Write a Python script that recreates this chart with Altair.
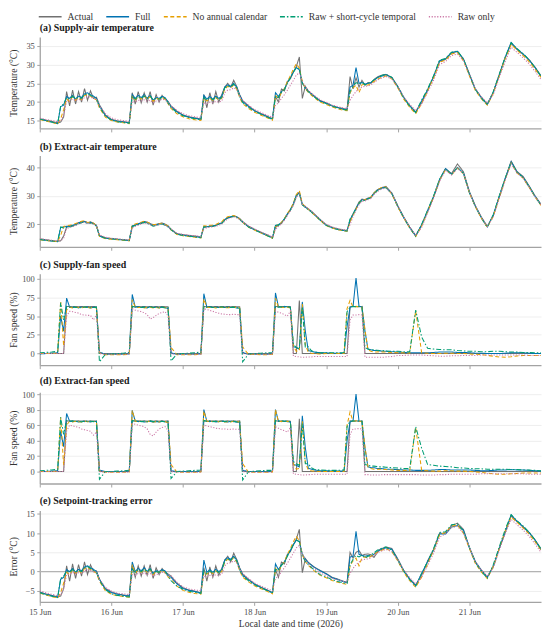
import altair as alt
import pandas as pd

# ---------------- time grid (hours after 15 Jun 2026 00:00) ----------------
hours = [
    0, 2, 4, 6, 7, 8, 9, 10, 11, 12, 13, 14, 15, 16, 17, 18, 19, 20, 22,
    24, 26, 28, 30, 31, 32, 33, 34, 35, 36, 37, 38, 39, 40, 41, 42, 43, 44, 46,
    48, 50, 52, 54, 55, 56, 57, 58, 59, 60, 61, 62, 63, 64, 65, 66, 67, 68, 70,
    72, 74, 76, 78, 79, 80, 81, 82, 83, 84, 85, 86, 87, 88, 89, 90, 91, 92, 94,
    96, 98, 100, 102, 103, 104, 105, 106, 107, 108, 109, 110, 111, 112, 113, 114, 115, 116, 118,
    120, 122, 124, 126, 128, 130, 132, 134, 136, 138, 140, 142,
    144, 146, 148, 150, 152, 154, 156, 158, 160, 162, 164, 166,
    168,
]

SERIES = ["Actual", "Full", "No annual calendar", "Raw + short-cycle temporal", "Raw only"]
COLORS = ["#717171", "#0072B2", "#E69F00", "#009E73", "#CC79A7"]
DASHES = [[1, 0], [1, 0], [4, 2.5], [5, 2, 1.5, 2], [1.2, 1.6]]

# ---------------- (a) Supply-air temperature ----------------
a_actual = [
    15.6, 15.2, 14.9, 14.5, 14.7, 16.0, 22.8, 19.0, 23.2, 19.5, 22.8, 20.0, 23.6, 20.5, 23.0, 21.0, 21.3, 19.3, 16.6,
    15.4, 15.0, 14.8, 14.6, 22.5, 19.5, 22.8, 19.8, 22.5, 20.0, 22.8, 19.2, 22.0, 20.0, 21.8, 20.8, 20.2, 19.0, 17.6,
    16.6, 16.1, 15.8, 15.5, 22.0, 18.5, 22.5, 19.5, 22.8, 20.0, 22.0, 24.0, 25.0, 24.0, 25.8, 24.2, 22.0, 20.4, 19.0,
    17.8, 17.0, 16.3, 15.6, 21.5, 20.0, 23.5, 23.0, 25.5, 26.2, 28.0, 29.5, 32.0, 21.0, 24.2, 23.0, 22.3, 21.6, 20.4,
    19.8, 19.0, 18.6, 18.2, 18.1, 26.8, 23.5, 26.5, 24.0, 25.8, 24.5, 25.2, 25.0, 26.0, 26.6, 27.0, 27.2, 27.4, 26.6,
    24.2, 21.3, 19.1, 17.4, 19.8, 23.3, 26.8, 30.8, 31.4, 33.1, 33.5, 31.5,
    27.5, 23.5, 21.3, 19.5, 22.6, 27.3, 31.8, 35.6, 34.0, 32.7, 31.3, 29.3,
    27.0,
]
a_full = [
    15.5, 15.1, 14.7, 14.3, 18.8, 19.2, 21.5, 21.0, 21.8, 20.8, 21.6, 21.2, 22.2, 22.5, 22.0, 21.6, 21.0, 19.0, 16.4,
    15.3, 14.9, 14.7, 14.5, 22.0, 21.0, 21.8, 21.2, 22.0, 21.0, 21.8, 20.5, 21.2, 21.0, 21.5, 21.2, 20.0, 18.8, 17.4,
    16.5, 16.0, 15.7, 15.4, 21.8, 20.8, 21.5, 20.8, 21.6, 21.0, 21.5, 24.0, 24.6, 24.2, 25.0, 24.0, 21.8, 20.2, 18.8,
    17.7, 16.9, 16.2, 15.5, 22.5, 21.5, 22.8, 23.5, 25.2, 26.5, 28.0, 29.2, 28.6, 25.2, 23.8, 22.9, 22.2, 21.5, 20.3,
    19.7, 19.0, 18.5, 18.1, 18.0, 24.0, 24.5, 29.2, 25.0, 25.2, 24.8, 25.0, 25.2, 25.8, 26.4, 26.8, 27.0, 27.3, 26.5,
    24.1, 21.2, 19.0, 17.3, 20.3, 23.2, 26.8, 31.0, 31.5, 33.2, 33.5, 31.4,
    27.4, 23.4, 21.2, 19.4, 22.5, 27.2, 31.9, 35.9, 34.1, 32.8, 31.2, 29.2,
    26.8,
]
a_noannual = [
    15.4, 15.0, 14.6, 14.2, 15.5, 18.0, 20.8, 20.2, 21.5, 20.5, 21.2, 20.6, 21.8, 22.0, 21.6, 21.0, 20.6, 18.5, 16.0,
    15.1, 14.7, 14.5, 14.3, 21.5, 20.6, 21.5, 20.8, 21.6, 20.8, 21.5, 20.2, 21.0, 20.8, 21.2, 20.8, 19.6, 18.3, 16.9,
    16.1, 15.6, 15.3, 15.1, 21.0, 20.3, 21.0, 20.5, 21.2, 20.6, 21.0, 23.5, 24.2, 23.8, 24.6, 23.5, 21.2, 19.6, 18.3,
    17.3, 16.6, 15.9, 15.2, 21.8, 21.0, 22.5, 23.6, 25.5, 27.0, 28.8, 30.2, 29.0, 25.5, 23.6, 22.6, 21.9, 21.2, 20.0,
    19.4, 18.7, 18.2, 17.8, 17.7, 22.5, 23.8, 24.5, 22.5, 24.6, 24.8, 24.5, 25.0, 25.5, 26.0, 26.4, 26.7, 27.0, 26.2,
    23.8, 20.8, 18.6, 16.9, 19.6, 23.0, 26.5, 30.6, 31.2, 32.8, 33.2, 31.0,
    27.0, 23.1, 20.9, 19.2, 22.3, 27.0, 31.6, 35.3, 33.8, 32.4, 30.8, 28.8,
    26.6,
]
a_rawshort = [
    15.5, 15.1, 14.7, 14.3, 19.0, 19.5, 21.2, 20.8, 21.5, 21.0, 21.3, 21.0, 22.0, 22.3, 21.8, 21.3, 20.8, 18.8, 16.3,
    15.2, 14.8, 14.6, 14.4, 21.6, 20.8, 21.5, 21.0, 21.6, 21.0, 21.6, 20.6, 21.0, 20.8, 21.3, 21.0, 19.8, 18.6, 17.2,
    16.4, 15.9, 15.6, 15.3, 21.2, 20.5, 21.2, 20.6, 21.3, 20.8, 21.2, 23.8, 24.3, 24.0, 24.8, 23.8, 21.5, 19.9, 18.6,
    17.6, 16.8, 16.1, 15.4, 21.6, 21.2, 22.6, 23.4, 25.0, 26.5, 28.0, 29.2, 28.8, 25.0, 23.7, 22.8, 22.1, 21.4, 20.2,
    19.6, 18.9, 18.4, 18.0, 17.9, 22.8, 24.2, 25.2, 24.8, 25.3, 24.6, 25.0, 25.3, 25.9, 26.5, 26.9, 27.2, 27.4, 26.6,
    24.0, 21.1, 18.9, 17.2, 20.6, 23.5, 27.0, 31.2, 31.6, 33.3, 33.6, 31.5,
    27.3, 23.4, 21.1, 19.3, 22.8, 27.4, 32.0, 35.8, 34.2, 32.9, 31.3, 29.2,
    26.9,
]
a_rawonly = [
    15.8, 15.4, 15.1, 14.8, 14.9, 16.5, 20.2, 20.3, 20.8, 20.4, 20.7, 20.5, 21.2, 21.5, 21.3, 21.0, 20.8, 19.0, 16.9,
    15.8, 15.3, 15.1, 14.9, 20.2, 20.0, 20.5, 20.3, 20.6, 20.2, 20.5, 19.8, 20.3, 20.3, 20.8, 20.6, 19.8, 19.0, 17.8,
    16.9, 16.4, 16.1, 15.9, 19.8, 19.6, 20.0, 19.8, 20.2, 20.0, 20.3, 22.5, 23.2, 23.3, 23.8, 23.4, 21.6, 20.4, 19.2,
    18.0, 17.3, 16.6, 16.0, 19.2, 19.8, 21.0, 22.0, 23.2, 24.5, 25.8, 27.2, 27.8, 25.6, 24.0, 23.1, 22.4, 21.8, 20.6,
    20.0, 19.2, 18.8, 18.4, 18.3, 20.5, 21.8, 22.8, 23.5, 24.0, 24.2, 24.3, 24.6, 25.2, 25.8, 26.2, 26.5, 26.8, 26.2,
    24.0, 21.4, 19.4, 17.8, 19.5, 22.6, 25.8, 30.0, 30.8, 32.4, 32.8, 31.0,
    27.4, 23.6, 21.4, 19.8, 22.0, 26.5, 30.8, 34.6, 33.2, 31.8, 30.2, 28.2,
    26.0,
]

# ---------------- (b) Extract-air temperature ----------------
b_actual = [
    14.8, 14.5, 14.2, 14.0, 14.1, 15.8, 19.0, 19.2, 19.4, 19.8, 20.5, 20.8, 21.0, 20.5, 20.8, 20.3, 19.6, 16.0, 15.2,
    14.9, 14.7, 14.5, 14.3, 19.2, 19.6, 20.0, 20.4, 20.9, 20.7, 20.2, 19.8, 19.9, 20.2, 20.4, 20.0, 19.4, 18.2, 16.6,
    16.3, 16.0, 15.8, 15.5, 19.0, 19.1, 19.2, 19.3, 19.5, 20.0, 20.3, 21.5, 22.2, 22.5, 22.8, 22.6, 22.0, 20.9, 19.2,
    18.2, 17.2, 16.3, 15.3, 18.8, 19.6, 20.3, 21.8, 23.5, 25.0, 27.0, 30.0, 31.3, 26.8, 26.2, 25.4, 24.6, 23.6, 21.6,
    19.8, 18.9, 18.3, 17.9, 17.8, 21.0, 23.5, 25.5, 27.8, 28.8, 28.6, 29.2, 29.5, 31.0, 32.0, 32.6, 33.0, 33.3, 31.0,
    26.5, 22.5, 19.0, 16.0, 19.5, 24.5, 29.5, 35.5, 39.5, 37.8, 41.2, 38.5,
    31.5, 26.5, 22.5, 19.2, 23.0, 29.5, 36.0, 42.2, 38.5, 36.8, 33.5, 30.0,
    27.0,
]
b_full = [
    14.6, 14.3, 14.0, 13.8, 18.8, 19.0, 19.2, 19.3, 19.6, 19.9, 20.4, 20.7, 20.9, 20.4, 20.6, 20.2, 19.5, 15.8, 15.0,
    14.8, 14.6, 14.4, 14.2, 19.4, 19.7, 20.1, 20.5, 20.8, 20.5, 20.0, 19.6, 19.8, 20.0, 20.2, 19.8, 19.2, 18.0, 16.5,
    16.1, 15.8, 15.6, 15.3, 19.2, 19.0, 19.3, 19.4, 19.6, 20.1, 20.4, 21.6, 22.3, 22.6, 22.9, 22.5, 21.8, 20.7, 19.0,
    18.0, 17.0, 16.1, 15.1, 19.5, 19.8, 20.5, 21.9, 23.6, 25.1, 27.2, 30.2, 31.0, 27.0, 26.0, 25.2, 24.4, 23.4, 21.4,
    19.6, 18.7, 18.1, 17.7, 17.6, 21.5, 23.6, 25.6, 27.5, 28.6, 28.4, 29.0, 29.4, 30.8, 31.8, 32.4, 32.8, 33.0, 30.8,
    26.3, 22.3, 18.8, 15.8, 19.8, 24.8, 29.8, 35.8, 39.6, 37.6, 40.0, 38.0,
    31.2, 26.3, 22.3, 19.0, 23.2, 29.8, 36.2, 42.0, 38.3, 36.5, 33.3, 29.8,
    26.8,
]
b_noannual = [
    14.5, 14.2, 14.0, 13.8, 16.0, 19.2, 19.4, 19.6, 19.8, 20.2, 20.6, 21.0, 21.2, 20.6, 20.7, 20.3, 19.5, 15.7, 14.9,
    14.7, 14.5, 14.3, 14.1, 19.6, 20.0, 20.3, 20.7, 21.0, 20.7, 20.2, 19.8, 19.9, 20.1, 20.3, 19.9, 19.3, 18.0, 16.3,
    15.9, 15.6, 15.4, 15.1, 19.4, 19.3, 19.6, 19.7, 19.9, 20.4, 20.8, 22.0, 22.6, 22.8, 23.0, 22.6, 21.8, 20.6, 18.9,
    17.9, 16.9, 16.0, 15.0, 19.0, 19.9, 20.6, 22.0, 23.8, 25.3, 27.4, 30.4, 31.8, 27.2, 26.2, 25.2, 24.3, 23.3, 21.3,
    19.5, 18.6, 18.0, 17.6, 17.5, 20.8, 23.2, 25.3, 27.4, 28.5, 28.5, 29.0, 29.5, 30.9, 31.9, 32.6, 33.0, 33.1, 30.6,
    26.1, 22.1, 18.6, 15.6, 19.3, 24.6, 29.6, 35.5, 39.3, 37.4, 39.8, 37.8,
    31.0, 26.1, 22.1, 18.9, 22.8, 29.4, 35.8, 41.6, 38.0, 36.2, 33.0, 29.6,
    26.6,
]
b_rawshort = [
    14.6, 14.3, 14.1, 13.9, 19.0, 18.6, 18.8, 19.0, 19.3, 19.6, 20.0, 20.5, 20.8, 20.2, 20.4, 20.0, 19.3, 15.8, 15.0,
    14.8, 14.6, 14.4, 14.2, 19.2, 19.5, 19.8, 20.2, 20.6, 20.3, 19.8, 19.3, 19.5, 19.8, 20.0, 19.6, 19.0, 18.1, 16.4,
    16.0, 15.7, 15.5, 15.2, 19.0, 18.9, 19.1, 19.2, 19.4, 19.9, 20.2, 21.4, 22.1, 22.4, 22.7, 22.4, 21.7, 20.6, 19.0,
    18.0, 17.0, 16.1, 15.1, 19.6, 19.6, 20.3, 21.7, 23.4, 24.9, 27.0, 30.0, 30.8, 26.8, 25.9, 25.1, 24.3, 23.3, 21.4,
    19.6, 18.7, 18.1, 17.7, 17.6, 21.8, 23.4, 25.4, 27.3, 28.4, 28.3, 28.9, 29.3, 30.7, 31.7, 32.3, 32.7, 32.9, 30.7,
    26.2, 22.2, 18.7, 15.7, 19.9, 24.9, 29.9, 35.7, 39.4, 37.5, 39.9, 37.9,
    31.1, 26.2, 22.2, 18.9, 23.3, 29.9, 36.1, 41.8, 38.2, 36.4, 33.2, 29.7,
    26.7,
]
b_rawonly = [
    14.9, 14.6, 14.3, 14.1, 14.1, 15.0, 18.4, 18.8, 19.1, 19.5, 20.1, 20.4, 20.7, 20.2, 20.4, 20.0, 19.3, 16.2, 15.4,
    15.0, 14.8, 14.6, 14.4, 18.6, 19.2, 19.6, 20.0, 20.4, 20.2, 19.8, 19.4, 19.5, 19.8, 20.0, 19.6, 19.0, 18.3, 16.8,
    16.4, 16.1, 15.9, 15.6, 18.4, 18.7, 18.9, 19.0, 19.2, 19.6, 20.0, 21.0, 21.8, 22.2, 22.5, 22.2, 21.6, 20.8, 19.3,
    18.3, 17.3, 16.4, 15.5, 18.0, 19.2, 20.0, 21.4, 23.0, 24.6, 26.6, 29.4, 30.6, 27.0, 26.2, 25.4, 24.6, 23.6, 21.7,
    19.9, 19.0, 18.4, 18.0, 17.9, 19.8, 22.6, 24.8, 26.8, 28.0, 28.1, 28.6, 29.0, 30.4, 31.4, 32.0, 32.5, 32.8, 30.8,
    26.4, 22.4, 18.9, 16.0, 18.8, 24.0, 29.0, 35.0, 39.0, 37.3, 39.6, 37.8,
    31.2, 26.4, 22.4, 19.2, 22.5, 29.0, 35.4, 41.2, 38.0, 36.2, 33.0, 29.6,
    26.8,
]

# ---------------- (c) Supply-fan speed ----------------
c_actual = [
    0, 0, 0, 0, 0, 0, 63, 63, 62.5, 63, 62.5, 63, 62.5, 63, 62.5, 63, 62.5, 0, 0,
    0, 0, 0, 0, 63, 62.5, 63, 62.5, 63, 62.5, 63, 62.5, 63, 62.5, 63, 62.5, 62.5, 0, 0,
    0, 0, 0, 0, 63, 62.5, 63, 62.5, 63, 62.5, 63, 62.5, 63, 62.5, 63, 62.5, 62.5, 0, 0,
    0, 0, 0, 0, 63, 62.5, 63, 62.5, 63, 62.5, 0, 0, 71, 0, 0, 0, 0, 0, 0,
    0, 0, 0, 0, 0, 62.5, 63, 63, 62.5, 63, 0, 0, 0, 0, 0, 0, 0, 0, 0,
    0, 0, 0, 0, 0, 0, 0, 0, 0, 0, 0, 0,
    0, 0, 0, 0, 0, 0, 0, 0, 0, 0, 0, 0,
    0,
]
c_full = [
    -0.5, 0, 0.5, 1, 50, 30, 74, 62, 61.5, 62.5, 61, 62, 61.5, 62, 61, 62, 61.5, 2, -1,
    -1, -1, -1, -0.5, 79, 62, 62.5, 61.5, 62, 61, 62.5, 61.5, 62, 61, 62, 61.5, 60, 1, -1,
    -1, -1, -1, -0.5, 80, 62, 62.5, 61.5, 62, 61.5, 62, 61.5, 62, 61.5, 62, 61, 60.5, 1.5, -1,
    -1, -1, -1, -0.5, 81, 62.5, 62, 63, 62.5, 62, 9, 8, 6, 69, 30, 4, 3, 2, 1,
    1, 0.5, 0.5, 0.5, 36, 62, 63, 101, 63, 62.5, 30, 6, 5, 4, 4, 3.5, 3, 3, 2.5,
    2, 1.5, 1, 1, 1, 1, 1.5, 2, 2, 2, 1.5, 1.5,
    1, 0.5, 0.5, 0, 0, 0, 0.5, 1, 1, 1, 0.5, 0,
    0,
]
c_noannual = [
    0, 0, 0, 0.5, 70, 10, 58, 62, 61, 62, 61.5, 61, 62, 61.5, 61, 62, 61, 1, -1.5,
    -1.5, -1.5, -1.5, -1, 72, 62, 61.5, 62, 61, 61.5, 62, 61, 61.5, 61, 62, 61.5, 60, 8, -1.5,
    -1.5, -1.5, -1.5, -1, 73, 62, 61.5, 62, 61, 61.5, 62, 61, 61.5, 61, 62, 61.5, 61, 9, -1.5,
    -1, -1.5, -1.5, -1, 74, 61.5, 62, 61.5, 62, 61, 10, 3, 4, 66, 12, 2, 0.5, 0, -0.5,
    0, 0, 0, 0, 60, 71, 62, 63, 62.5, 62, 32, 5, 3, 2, 2, 2.5, 2, 2, 1.5,
    1, 1, 0.5, 57, 1, 0.5, 0, 0, 0.5, 0.5, 0, 0,
    -0.5, -1, -1.5, -2.5, -3.5, -4.5, -4.8, -4.2, -3.2, -2.5, -2.5, -2.5,
    -2.5,
]
c_rawshort = [
    1, 1.5, 2, 3, 68, 45, 63, 62, 62.5, 61.5, 62, 61, 62.5, 61.5, 62, 61.5, 62, -11, -1,
    -0.5, 0, 0.5, 1.5, 63, 62, 62.5, 61.5, 62, 61.5, 62.5, 61.5, 62, 61.5, 62, 61, 61.5, -10, -0.5,
    0, 0.5, 1, 2, 63, 62, 62.5, 61.5, 62, 61.5, 62.5, 61.5, 62, 61.5, 62, 61, 61.5, -11, -0.5,
    0, 0.5, 1, 1.5, 63, 62, 62.5, 62, 62.5, 61.5, 12, 8, 6, 62, 8, 9, 4, 2, 1,
    1, 1, 1, 1.5, 56, 62, 63, 62.5, 63, 62, 8, 6, 5, 5, 4.5, 4, 4, 3.5, 3,
    3, 2.5, 2.5, 58, 22, 7, 6, 5.5, 5, 5, 4, 3.5,
    3, 3, 2.5, 2.5, 3, 3, 2.5, 2, 2, 1.5, 1.5, 1,
    1,
]
c_rawonly = [
    0, 0, 0, 0, 0, 0, 50, 56.5, 56, 55, 54, 52, 51.5, 51, 51, 45, 51.5, 0, -1,
    -1, -1, -1, -1, 60, 58, 57, 56, 54.5, 52, 46, 48, 51, 53.5, 55, 56, 50, -0.5, -1,
    -1, -1, -1, -1, 60, 59, 57.5, 56.5, 55, 54, 53, 52.5, 52, 52, 52.5, 52, 52, 0, -1,
    -1, -1, -1, -1, 57, 55, 54, 52, 50, 57, -3.5, -4, -4.5, -5, -5, -4.5, -4.5, -4, -4,
    -4, -4, -4, -4, -4, 45, 51.5, 51.5, 52, 51.5, -5, -5, -5, -5, -5, -5, -5, -4.5, -4,
    -2.5, -2.5, -2, -2, -2, -2.5, -3, -3.5, -3.5, -3, -3, -2.5,
    -2.5, -2.5, -2, -2, -2, -2, -2, -2, -2, -2, -2.5, -2.5,
    -2.5,
]

# ---------------- (d) Extract-fan speed ----------------
d_actual = [
    0, 0, 0, 0, 0, 0, 65.5, 65, 65.5, 65, 65.5, 65, 65.5, 65, 65.5, 65, 65.5, 0, 0,
    0, 0, 0, 0, 65.5, 65, 65.5, 65, 65.5, 65, 65.5, 65, 65.5, 65, 65.5, 65, 65.5, 0, 0,
    0, 0, 0, 0, 65.5, 65, 65.5, 65, 65.5, 65, 65.5, 65, 65.5, 65, 65.5, 65, 65.5, 0, 0,
    0, 0, 0, 0, 65.5, 65, 65.5, 65, 65.5, 65, 0, 0, 68, 0, 0, 0, 0, 0, 0,
    0, 0, 0, 0, 0, 65.5, 65, 65.5, 65, 65.5, 0, 0, 0, 0, 0, 0, 0, 0, 0,
    0, 0, 0, 0, 0, 0, 0, 0, 0, 0, 0, 0,
    0, 0, 0, 0, 0, 0, 0, 0, 0, 0, 0, 0,
    0,
]
d_full = [
    0, 0, 0.5, 1, 52, 32, 75, 65, 64.5, 65, 64, 65, 64.5, 65, 64, 65, 64.5, 2, 0,
    0, 0, 0, 0.5, 79, 65, 64.5, 65, 64, 64.5, 65, 64, 64.5, 64, 65, 64.5, 63, 1, 0,
    0, 0, 0, 0.5, 80, 65, 64.5, 65, 64, 64.5, 65, 64.5, 64, 65, 64.5, 64, 63.5, 1.5, 0,
    0, 0, 0, 0.5, 80, 65, 64.5, 65, 64.5, 64, 9, 8, 6, 72, 31, 4, 3, 2, 1,
    1, 0.5, 0.5, 0.5, 40, 64, 65.5, 100, 65, 64.5, 30, 6, 5, 5, 4, 4, 3.5, 3, 3,
    2.5, 2, 2, 1.5, 1.5, 1.5, 2, 2.5, 2.5, 2, 2, 2,
    2, 1.5, 1, 1, 1.5, 2, 2, 2.5, 2, 2, 1.5, 1,
    0.5,
]
d_noannual = [
    0, 0, 0, 0.5, 70, 8, 60, 65, 64, 65, 64.5, 64, 65, 64.5, 64, 65, 64, 1, -1,
    -1, -1, -1, -0.5, 79, 65, 64.5, 65, 64, 64.5, 65, 64, 64.5, 64, 65, 64.5, 63, 9, -1,
    -1, -1, -1, -0.5, 78, 65, 64.5, 65, 64, 64.5, 65, 64, 64.5, 64, 65, 64.5, 64, 10, -1,
    -1, -1, -1, -0.5, 80, 64.5, 65, 64.5, 65, 64, 10, 3, 4, 65, 12, 2, 1, 0.5, 0,
    0, 0, 0, 0, 60, 77, 65, 65.5, 65, 64.5, 32, 6, 4, 3, 3, 3, 2.5, 2.5, 2,
    1.5, 1.5, 1, 57, 1.5, 1, 0.5, 0.5, 1, 1, 0.5, 0.5,
    0, -0.5, -1, -2, -3, -3.5, -3.5, -3, -2.5, -2, -2, -2,
    -2,
]
d_rawshort = [
    1, 1.5, 2, 3, 70, 48, 66, 65, 65.5, 64.5, 65, 64, 65.5, 64.5, 65, 64.5, 65, -10, 0,
    0, 0.5, 1, 1.5, 66, 65, 65.5, 64.5, 65, 64.5, 65.5, 64.5, 65, 64.5, 65, 64, 64.5, -9, 0,
    0.5, 1, 1.5, 2, 66, 65, 65.5, 64.5, 65, 64.5, 65.5, 64.5, 65, 64.5, 65, 64, 64.5, -11, 0,
    0.5, 1, 1.5, 1.5, 66, 65, 65.5, 65, 65.5, 64.5, 13, 10, 8, 62, 10, 10, 5, 3, 2,
    1.5, 1.5, 1.5, 2, 58, 65, 65.5, 65, 65.5, 65, 9, 8, 7, 7, 6.5, 6, 6, 5.5, 5,
    4.5, 4, 4, 58, 30, 9, 8, 7, 6.5, 6, 5, 4.5,
    4, 3.5, 3.5, 3, 3, 3, 3, 2.5, 2.5, 2, 2, 1.5,
    1,
]
d_rawonly = [
    0, 0, 0, 0, 0, 0, 52, 60, 59, 58, 57, 55, 54, 53, 52, 47, 51, 0, -1,
    -1, -1, -1, -1, 62, 61, 60, 59, 58, 55, 48, 46, 51, 55, 57, 58, 53, 0, -1,
    -1, -1, -1, -1, 60, 59, 58, 57, 56, 55.5, 55, 55, 54.5, 54.5, 55, 54.5, 54.5, 0, -1,
    -1, -1, -1, -1, 58, 56, 54, 53, 51, 57, -3, -3.5, -4, -4.5, -4.5, -4, -4, -3.5, -3.5,
    -3.5, -3.5, -3.5, -3.5, -3.5, 48, 55, 55, 55.5, 55, -4, -4, -4.5, -4.5, -4.5, -4.5, -4, -4, -4,
    -4, -4, -4, -4, -4.5, -4.5, -4.5, -4, -4, -3.5, -3.5, -3.5,
    -3.5, -3.5, -3, -3, -3, -3, -3, -3, -3, -3, -3.5, -3.5,
    -3.5,
]

# ---------------- (e) Setpoint-tracking error ----------------
e_actual = [
    -5.3, -5.8, -6.2, -6.6, -6.4, -4.5, 1.5, -2.5, 2.0, -1.8, 1.8, -1.2, 2.5, -0.8, 1.8, 0.0, 0.2, -2.0, -4.4,
    -5.3, -5.8, -6.1, -6.3, 1.5, -1.5, 1.5, -1.2, 1.5, -1.0, 1.8, -1.8, 1.0, -0.8, 0.8, -0.2, -0.6, -1.2, -3.0,
    -4.2, -4.8, -5.1, -5.5, 1.0, -2.5, 1.2, -1.5, 1.5, -1.0, 0.8, 3.0, 4.0, 2.5, 4.8, 3.2, 1.0, -0.6, -2.0,
    -3.2, -4.0, -4.7, -5.5, 0.5, -1.5, 2.5, 2.0, 4.5, 5.2, 7.0, 8.5, 11.0, -0.3, 3.4, 2.4, 1.8, 1.2, 0.3,
    -0.5, -1.5, -2.0, -2.6, -2.8, 5.0, 3.5, 5.0, 5.5, 4.2, 4.5, 4.6, 4.4, 3.7, 4.8, 5.8, 6.1, 6.4, 6.0,
    3.3, 0.3, -1.9, -3.5, -1.0, 2.8, 5.8, 10.0, 10.0, 12.0, 12.6, 11.0,
    6.3, 2.6, 0.4, -1.4, 1.4, 6.0, 10.3, 14.5, 13.0, 11.6, 10.2, 8.3,
    5.9,
]
e_full = [
    -5.4, -5.9, -6.3, -6.7, -2.0, -1.5, 0.5, 0.0, 0.8, -0.2, 0.6, 0.2, 1.2, 1.5, 1.0, 0.6, 0.0, -2.0, -4.6,
    -5.5, -5.9, -6.2, -6.4, 2.5, 0.0, 0.8, 0.2, 1.0, 0.0, 0.8, -0.5, 0.2, 0.0, 0.5, 0.2, -1.0, -1.5, -3.2,
    -4.4, -4.9, -5.2, -5.6, 3.0, -0.2, 0.5, -0.2, 0.6, 0.0, 0.5, 3.0, 3.6, 3.2, 4.0, 3.0, 0.8, -0.9, -2.2,
    -3.3, -4.1, -4.8, -5.5, 2.0, 0.5, 1.8, 2.5, 4.2, 5.5, 7.0, 8.2, 7.8, 4.6, 3.2, 2.3, 1.7, 1.1, 0.2,
    -0.6, -1.6, -2.1, -2.7, -2.9, 3.8, 4.0, 10.5, 4.5, 4.2, 4.0, 4.2, 4.0, 4.5, 5.2, 5.6, 5.9, 6.2, 5.8,
    3.1, 0.2, -2.0, -3.7, -0.5, 2.6, 5.6, 9.8, 9.8, 11.6, 12.0, 10.8,
    6.2, 2.5, 0.3, -1.5, 1.3, 5.9, 10.4, 14.8, 13.1, 11.7, 10.2, 8.2,
    5.7,
]
e_noannual = [
    -5.6, -6.1, -6.5, -6.9, -5.5, -3.0, -0.2, -0.8, 0.5, -0.5, 0.2, -0.4, 0.8, 1.0, 0.6, 0.0, -0.4, -2.5, -5.0,
    -5.9, -6.3, -6.5, -6.7, 1.8, -0.4, 0.5, -0.2, 0.6, -0.2, 0.5, -0.8, 0.0, -0.2, 0.2, -0.2, -1.4, -2.0, -3.8,
    -4.9, -5.4, -5.7, -5.9, 0.0, -0.7, 0.0, -0.5, 0.2, -0.4, 0.0, 2.5, 3.2, 2.8, 3.6, 2.5, 0.2, -1.4, -2.7,
    -3.7, -4.4, -5.1, -5.8, 0.8, 0.0, 1.5, 2.6, 4.5, 6.0, 7.8, 9.2, 8.0, 4.5, 2.6, 1.6, 0.9, 0.2, -1.0,
    -1.6, -2.3, -2.8, -3.2, -3.3, 1.5, 2.8, 3.5, 1.5, 3.6, 3.8, 3.5, 4.0, 4.5, 5.0, 5.4, 5.7, 6.0, 5.2,
    2.8, -0.2, -2.4, -4.1, -1.4, 2.0, 5.5, 9.6, 10.2, 11.8, 12.2, 10.0,
    6.0, 2.1, -0.1, -1.8, 1.3, 6.0, 10.6, 14.3, 12.8, 11.4, 9.8, 7.8,
    5.6,
]
e_rawshort = [
    -5.5, -6.0, -6.4, -6.8, -1.8, -1.2, 0.2, -0.2, 0.5, 0.0, 0.3, 0.0, 1.0, 1.3, 0.8, 0.3, -0.2, -2.2, -4.7,
    -5.8, -6.2, -6.4, -6.6, 0.6, -0.2, 0.5, 0.0, 0.6, 0.0, 0.6, -0.4, 0.0, -0.2, 0.3, 0.0, -1.2, -2.4, -3.8,
    -4.6, -5.1, -5.4, -5.7, 0.2, -0.5, 0.2, -0.4, 0.3, -0.2, 0.2, 2.8, 3.3, 3.0, 3.8, 2.8, 0.5, -1.1, -2.4,
    -3.4, -4.2, -4.9, -5.6, 0.6, 0.2, 1.6, 2.4, 4.0, 5.5, 7.0, 8.2, 7.8, 4.0, 2.7, 1.8, 1.1, 0.4, -0.8,
    -1.4, -2.1, -2.6, -3.0, -3.1, 1.8, 3.2, 4.2, 3.8, 4.3, 3.6, 4.0, 4.3, 4.9, 5.5, 5.9, 6.2, 6.4, 5.6,
    3.0, 0.1, -2.1, -3.8, -0.4, 2.5, 6.0, 10.2, 10.4, 12.2, 12.4, 10.5,
    6.3, 2.4, 0.1, -1.7, 1.8, 6.4, 11.0, 14.8, 13.2, 11.9, 10.3, 8.2,
    5.9,
]
e_rawonly = [
    -5.0, -5.5, -5.9, -6.3, -6.2, -4.5, -0.8, -0.7, -0.2, -0.6, -0.3, -0.5, 0.2, 0.5, 0.3, 0.0, -0.2, -2.0, -4.1,
    -5.1, -5.6, -5.8, -6.0, -0.8, -1.0, -0.5, -0.7, -0.4, -0.8, -0.5, -1.2, -0.7, -0.7, -0.2, -0.4, -1.2, -1.0, -2.8,
    -4.0, -4.5, -4.8, -5.0, -1.2, -1.4, -1.0, -1.2, -0.8, -1.0, -0.7, 1.5, 2.2, 2.3, 2.8, 2.4, 0.6, -0.6, -1.8,
    -3.0, -3.7, -4.4, -5.0, -1.8, -1.2, 0.0, 1.0, 2.2, 3.5, 4.8, 6.2, 6.8, 4.6, 3.0, 2.1, 1.4, 0.8, -0.4,
    -1.0, -1.8, -2.2, -2.6, -2.7, -0.5, 0.8, 1.8, 2.5, 3.0, 3.2, 3.3, 3.6, 4.2, 4.8, 5.2, 5.5, 5.8, 5.2,
    3.0, 0.4, -1.6, -3.2, -1.5, 1.6, 4.8, 9.0, 9.8, 11.4, 11.8, 10.0,
    6.4, 2.6, 0.4, -1.2, 1.0, 5.5, 9.8, 13.6, 12.2, 10.8, 9.2, 7.2,
    5.0,
]

# ---------------- build chart ----------------
base = pd.Timestamp("2026-06-15 00:00:00")
times = [(base + pd.Timedelta(hours=h)).strftime("%Y-%m-%dT%H:%M:%S") for h in hours]

FONT = "Liberation Serif"
PW, PH = 505, 92
x_scale = alt.Scale(
    domain=[alt.DateTime(year=2026, month=6, date=15, hours=0),
            alt.DateTime(year=2026, month=6, date=22, hours=0)],
    nice=False,
)
x_ticks = [alt.DateTime(year=2026, month=6, date=d, hours=0) for d in range(15, 22)]
color_scale = alt.Scale(domain=SERIES, range=COLORS)
dash_scale = alt.Scale(domain=SERIES, range=DASHES)
legend = alt.Legend(
    title=None, orient="none", legendX=4.5, legendY=-26.5, direction="horizontal",
    columns=5, symbolType="M-2.3,0L2.3,0", symbolSize=100, symbolStrokeWidth=1.5,
    labelFontSize=9.7, labelFont=FONT, labelColor="#333333", columnPadding=9,
    labelOffset=11.5, padding=0, gridAlign="none", rowPadding=0,
)


def make_panel(title, ytitle, domain, ticks, data, bottom=False, zero=False):
    if bottom:
        x_axis = alt.Axis(values=x_ticks, format="%d %b", title="Local date and time (2026)",
                          grid=False, tickSize=3.5, labelPadding=2, labelFontSize=8.5,
                          titleFontSize=9.7, titlePadding=3, labelFlush=False)
    else:
        x_axis = alt.Axis(values=x_ticks, labels=False, title=None, grid=False, tickSize=3.5)
    y_axis = alt.Axis(values=ticks, title=ytitle, titleX=-21.5, titleBaseline="bottom",
                      grid=True, tickSize=3, labelPadding=2.5)
    y_scale = alt.Scale(domain=domain, nice=False, zero=False)
    layers = []
    if zero:
        layers.append(
            alt.Chart(pd.DataFrame({"value": [0]})).mark_rule(color="#b3b3b3", strokeWidth=1.2)
            .encode(y=alt.Y("value:Q", scale=y_scale, axis=y_axis))
        )
    for name, vals in zip(SERIES, data):
        assert len(vals) == len(hours), f"{title} {name}: {len(vals)} values"
        df = pd.DataFrame({"time": times, "value": vals, "series": name})
        layers.append(
            alt.Chart(df).mark_line(strokeWidth=1.05, clip=True).encode(
                x=alt.X("time:T", scale=x_scale, axis=x_axis),
                y=alt.Y("value:Q", scale=y_scale, axis=y_axis),
                color=alt.Color("series:N", scale=color_scale, legend=legend),
                strokeDash=alt.StrokeDash("series:N", scale=dash_scale, legend=legend),
            )
        )
    return alt.layer(*layers).properties(
        width=PW, height=PH,
        title=alt.TitleParams(title, anchor="start", offset=4, frame="group"),
    )


panels = [
    make_panel("(a) Supply-air temperature", "Temperature (°C)", [13, 37.3], [15, 20, 25, 30, 35],
               [a_actual, a_full, a_noannual, a_rawshort, a_rawonly]),
    make_panel("(b) Extract-air temperature", "Temperature (°C)", [12, 44.2], [20, 30, 40],
               [b_actual, b_full, b_noannual, b_rawshort, b_rawonly]),
    make_panel("(c) Supply-fan speed", "Fan speed (%)", [-15.5, 106.5], [0, 25, 50, 75, 100],
               [c_actual, c_full, c_noannual, c_rawshort, c_rawonly]),
    make_panel("(d) Extract-fan speed", "Fan speed (%)", [-15.5, 102.5], [0, 20, 40, 60, 80, 100],
               [d_actual, d_full, d_noannual, d_rawshort, d_rawonly]),
    make_panel("(e) Setpoint-tracking error", "Error (°C)", [-7.9, 15.9], [-5, 0, 5, 10, 15],
               [e_actual, e_full, e_noannual, e_rawshort, e_rawonly], bottom=True, zero=True),
]

chart = (
    alt.vconcat(*panels, spacing=27.25, bounds="flush")
    .resolve_scale(y="independent")
    .resolve_axis(x="independent", y="independent")
    .properties(padding={"left": 0, "top": 0, "right": 0, "bottom": 0})
    .configure(font=FONT)
    .configure_view(stroke=None)
    .configure_axis(
        domainColor="#a3a3a3", domainWidth=1.3, tickColor="#a3a3a3", tickWidth=1,
        labelColor="#4d4d4d", labelFontSize=8.5, labelFont=FONT,
        titleFont=FONT, titleFontSize=9.7, titleColor="#333333", titleFontWeight="normal",
        gridColor="#e9e9e9", gridWidth=0.8,
    )
    .configure_title(font=FONT, fontSize=10, fontWeight="bold", color="#1a1a1a", anchor="start")
)

chart.save("out.html", embed_options={"renderer": "svg", "actions": False})
